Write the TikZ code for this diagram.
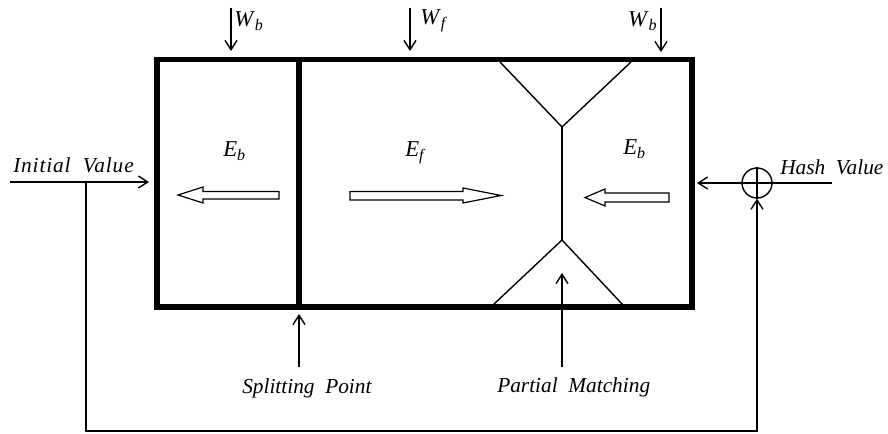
\documentclass[tikz,border=0pt]{standalone}
\usepackage{fontspec}
\setmainfont{Liberation Serif}
\usetikzlibrary{arrows.meta}
\newcommand\lbl[1]{{\itshape #1}}
\newcommand\sbs[2]{\textit{#1}\raisebox{-0.3ex}{\fontsize{12}{13}\selectfont\textit{#2}}}
\begin{document}
\begin{tikzpicture}[x=0.75pt,y=-0.75pt,
  thick border/.style={line width=4.2pt,line join=miter},
  thin/.style={line width=1.05pt},
  conn/.style={line width=1.05pt,-{Straight Barb[length=7pt,width=9pt,line width=1.05pt]}},
  hollow/.style={line width=0.9pt,fill=white,line join=miter},
  txt/.style={font=\fontsize{16}{18}\selectfont, inner sep=0pt, anchor=base west},
  sym/.style={font=\fontsize{17}{19}\selectfont, inner sep=0pt, anchor=base west}]
\useasboundingbox (0,0) rectangle (888,434);
% main box
\coordinate (tl) at (157,59.5);
\coordinate (br) at (692,307);
\coordinate (splitT) at (299,59.5);
\coordinate (splitB) at (299,307);
\draw[thick border] (tl) rectangle (br);
\draw[thick border] (splitT) -- (splitB);
% partial matching shape
\coordinate (tv) at (562,127);
\coordinate (bv) at (562,240);
\draw[thin] (500,62) -- (tv) -- (631,62);
\draw[thin] (tv) -- (bv);
\draw[thin] (493,305) -- (bv) -- (623,305);
% hollow arrows
\draw[hollow] (279,191.5) -- (203,191.5) -- (203,187) -- (178,195) -- (203,203) -- (203,199) -- (279,199) -- cycle;
\draw[hollow] (350,191.5) -- (463,191.5) -- (463,188) -- (501,195.5) -- (463,203) -- (463,200) -- (350,200) -- cycle;
\draw[hollow] (669,193) -- (605,193) -- (605,189) -- (585,197.5) -- (605,206) -- (605,202) -- (669,202) -- cycle;
% region labels
\node[sym] (eb1) at (223,157) {\sbs{E}{b}};
\node[sym] (ef) at (405,157) {\sbs{E}{f}};
\node[sym] (eb2) at (623,155) {\sbs{E}{b}};
% top inputs
\coordinate (wb1s) at (231,8);
\coordinate (wb1e) at (231,51);
\coordinate (wfs) at (410,8);
\coordinate (wfe) at (410,51);
\coordinate (wb2s) at (661,8);
\coordinate (wb2e) at (661,52);
\draw[conn] (wb1s) -- (wb1e);
\draw[conn] (wfs) -- (wfe);
\draw[conn] (wb2s) -- (wb2e);
\node[sym] (wb1) at (234,27) {\sbs{W}{b}};
\node[sym] (wf) at (420,25) {\sbs{W}{f}};
\node[sym,anchor=base east] (wb2) at (657,27) {\sbs{W}{b}};
% initial value
\coordinate (ivs) at (10,182);
\coordinate (ive) at (149,182);
\draw[conn] (ivs) -- (ive);
\node[txt] (iv) at (13,173) {\lbl{\addfontfeatures{LetterSpace=4}Initial\ \ Value}};
% hash value and xor
\node[circle,draw,line width=1.05pt,minimum size=22.5pt,inner sep=0pt] (xor) at (757,183) {};
\draw[thin] (xor.north) -- (xor.south);
\draw[thin] (xor.west) -- (xor.east);
\coordinate (hvs) at (832,183);
\draw[thin] (hvs) -- (xor.east);
\coordinate (boxR) at (697,183);
\draw[conn] (xor.west) -- (boxR);
\node[txt] (hv) at (780,175) {\lbl{Hash\ \ Value}};
% feedback loop
\coordinate (fb0) at (86,182);
\coordinate (fb1) at (86,431);
\coordinate (fb2) at (757,431);
\draw[conn] (fb0) -- (fb1) -- (fb2) -- (xor.south);
% splitting point
\coordinate (sps) at (299,367);
\coordinate (spe) at (299,314);
\draw[conn] (sps) -- (spe);
\node[txt] (sp) at (242,393) {\lbl{Splitting\ \ Point}};
% partial matching
\coordinate (pms) at (562,367);
\coordinate (pme) at (562,273);
\draw[conn] (pms) -- (pme);
\node[txt] (pm) at (497,392) {\lbl{Partial\ \ Matching}};
\end{tikzpicture}
\end{document}
